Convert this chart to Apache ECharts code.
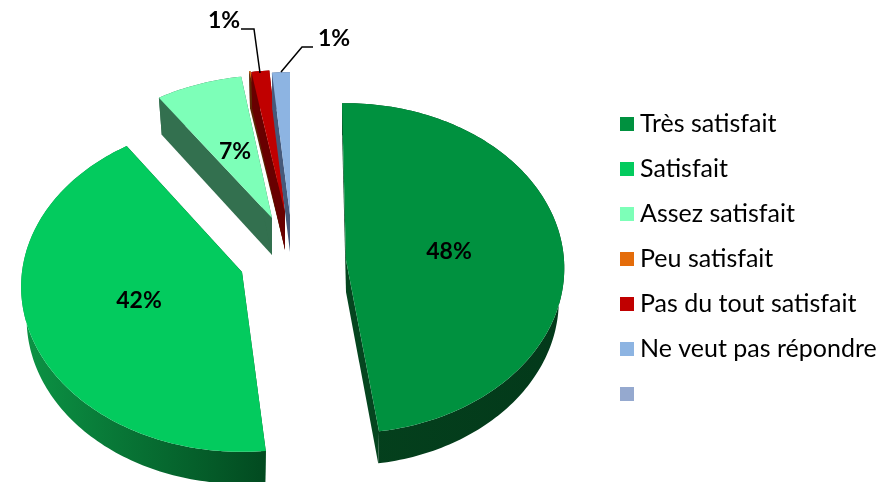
<!DOCTYPE html>
<html>
<head>
<meta charset="utf-8">
<style>
html, body { margin: 0; padding: 0; background: #fff; }
#chart { width: 879px; height: 482px; }
</style>
<script src="https://cdn.jsdelivr.net/npm/echarts@6/dist/echarts.min.js"></script>
</head>
<body>
<div id="chart"></div>
<script>
// donnees
var categories = ['Très satisfait', 'Satisfait', 'Assez satisfait', 'Peu satisfait', 'Pas du tout satisfait', 'Ne veut pas répondre', ' '];
var values = [48, 42, 7, 0.1, 1.45, 1.45, 0];

// couleurs
var topColors = ['#00913f', '#03cb5e', '#7dffb8', '#e46c0a', '#c00000', '#8db4e2', '#95a9cf'];
var sideColors = ['#05451f', '#02501f', '#33704f', '#5c2a06', '#680000', '#46597a', '#95a9cf'];
var rimColors = [['#04411d', '#03391a'], ['#0c9445', '#024a20'], ['#33704f', '#33704f'], ['#5c2a06', '#5c2a06'], ['#680000', '#680000'], ['#46597a', '#46597a'], ['#95a9cf', '#95a9cf']];

// pointe de chaque part eclatee, rayons, epaisseur, perspective et petite rotation (degres)
var tipX = [346, 242, 272, 285, 285, 290, 0];
var tipY = [260, 272, 218, 212, 213, 215, 0];
var radiusX = [218, 220, 218, 218, 218, 218, 0];
var radiusY = [165, 165, 157, 157, 157, 157, 0];
var depths = [32, 32, 37, 37, 37, 37, 0];
var perspective = [0.05, 0.09, 0.09, 0.09, 0.09, 0.09, 0];
var tilt = [-1.1, 1.5, 1.9, 0.4, 0.7, 0, 0];
var bottomShrink = 0.975;

// texte des etiquettes
var labelX = [449, 139, 235, 0, 224, 334, 0];
var labelY = [252, 301, 152, 0, 21, 39, 0];
var leaders = [null, null, null, null, [[241, 29], [254, 29], [260, 73]], [[313, 47], [302, 47], [281, 72]], null];

var total = values.reduce(function (a, b) { return a + b; }, 0);

function arcPoint(i, angle, lower) {
	var u = Math.sin(angle), v = Math.cos(angle);
	var s = 1 - perspective[i] * v;
	var x = radiusX[i] * u * s * (lower ? bottomShrink : 1);
	var y = -radiusY[i] * v * s;
	return [tipX[i] + x, tipY[i] + y + (lower ? depths[i] : 0)];
}

function arcPoints(i, a0, a1, lower) {
	var n = Math.max(2, Math.ceil((a1 - a0) / 0.02));
	var pts = [];
	for (var k = 0; k <= n; k++) {
		pts.push(arcPoint(i, a0 + (a1 - a0) * k / n, lower));
	}
	return pts;
}

function renderSlice(params, api) {
	var i = params.seriesIndex;
	var value = api.value(0);
	if (!value) return { type: 'group', children: [] };
	var cum = api.value(1);
	var rot = tilt[i] * Math.PI / 180;
	var a0 = echarts.number.linearMap(cum, [0, total], [0, Math.PI * 2]) + rot;
	var a1 = echarts.number.linearMap(cum + value, [0, total], [0, Math.PI * 2]) + rot;

	var upper = arcPoints(i, a0, a1, false);
	var lower = arcPoints(i, a0, a1, true);
	var tip = [tipX[i], tipY[i]];
	var tipLow = [tipX[i], tipY[i] + depths[i]];
	var children = [];

	// parois radiales
	[[upper[0], lower[0]], [upper[upper.length - 1], lower[lower.length - 1]]].forEach(function (e) {
		children.push({
			type: 'polygon',
			shape: { points: [tip, e[0], e[1], tipLow] },
			style: { fill: sideColors[i] }
		});
	});
	// bord exterieur
	children.push({
		type: 'polygon',
		shape: { points: upper.concat(lower.slice().reverse()) },
		style: {
			fill: new echarts.graphic.LinearGradient(0, 0, 1, 0, [
				{ offset: 0, color: rimColors[i][0] },
				{ offset: 1, color: rimColors[i][1] }
			])
		}
	});
	// dessus
	children.push({
		type: 'polygon',
		shape: { points: [tip].concat(upper) },
		style: { fill: topColors[i] }
	});
	// etiquette
	if (labelX[i]) {
		children.push({
			type: 'text',
			z2: 10,
			style: {
				text: Math.round(value / total * 100) + '%',
				x: labelX[i], y: labelY[i],
				align: 'center', verticalAlign: 'middle',
				fontFamily: 'Lato', fontWeight: 'bold', fontSize: 23, fill: '#000'
			}
		});
	}
	if (leaders[i]) {
		children.push({
			type: 'polyline',
			z2: 10,
			shape: { points: leaders[i] },
			style: { stroke: '#000', lineWidth: 1.5, fill: null }
		});
	}
	return { type: 'group', children: children };
}

var series = [];
var running = 0;
categories.forEach(function (name, i) {
	series.push({
		name: name,
		type: 'custom',
		coordinateSystem: 'none',
		silent: true,
		itemStyle: { color: topColors[i] },
		data: [[values[i], running]],
		renderItem: renderSlice
	});
	running += values[i];
});

var chart = echarts.init(document.getElementById('chart'));
chart.setOption({
	animation: false,
	backgroundColor: '#fff',
	legend: {
		orient: 'vertical',
		left: 616,
		top: 110,
		padding: [0, 0, 0, 4],
		itemWidth: 14,
		itemHeight: 14,
		itemGap: 17,
		icon: 'rect',
		selectedMode: false,
		data: categories,
		textStyle: { fontFamily: 'Lato', fontSize: 25, color: '#000', padding: [0, 0, 0, 1], lineHeight: 28, height: 28 }
	},
	series: series
});
</script>
</body>
</html>
